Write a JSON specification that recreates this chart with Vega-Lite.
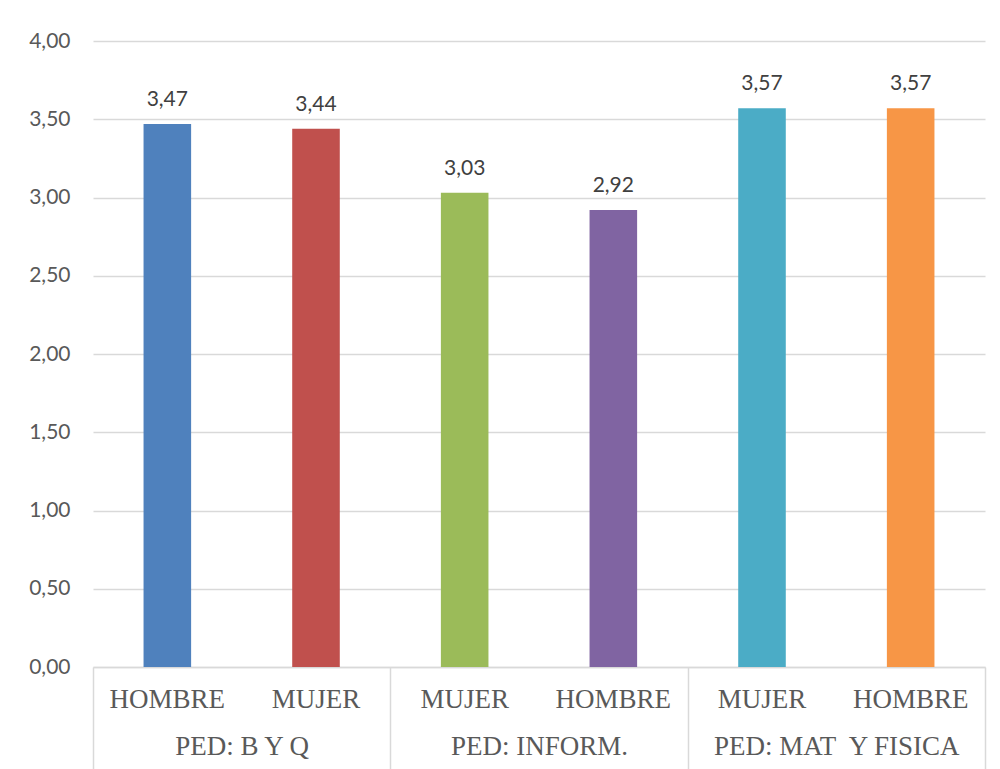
{
  "$schema": "https://vega.github.io/schema/vega-lite/v6.json",
  "width": 892,
  "height": 626,
  "autosize": {"type": "none"},
  "padding": {"left": 93, "top": 41, "right": 15, "bottom": 102},
  "background": "white",
  "config": {
    "view": {"stroke": null},
    "locale": {"number": {"decimal": ",", "thousands": ".", "grouping": [3], "currency": ["", " €"]}}
  },
  "data": {
    "values": [
      {"id": "HOMBRE (B Y Q)", "category": "HOMBRE", "group": "PED: B Y Q", "value": 3.47},
      {"id": "MUJER (B Y Q)", "category": "MUJER", "group": "PED: B Y Q", "value": 3.44},
      {"id": "MUJER (INFORM.)", "category": "MUJER", "group": "PED: INFORM.", "value": 3.03},
      {"id": "HOMBRE (INFORM.)", "category": "HOMBRE", "group": "PED: INFORM.", "value": 2.92},
      {"id": "MUJER (MAT Y FISICA)", "category": "MUJER", "group": "PED: MAT\u00a0 Y FISICA", "value": 3.57},
      {"id": "HOMBRE (MAT Y FISICA)", "category": "HOMBRE", "group": "PED: MAT\u00a0 Y FISICA", "value": 3.57}
    ]
  },
  "layer": [
    {
      "encoding": {
        "x": {
          "field": "id",
          "type": "nominal",
          "sort": null,
          "scale": {"paddingInner": 0.68, "paddingOuter": 0.34},
          "axis": {
            "title": null,
            "labelAngle": 0,
            "labelExpr": "split(datum.label, ' (')[0]",
            "labelFont": "Liberation Serif",
            "labelFontSize": 27,
            "labelColor": "#595959",
            "labelBaseline": "middle",
            "labelPadding": 32,
            "labelLimit": 0,
            "ticks": false,
            "domain": true,
            "domainColor": "#d9d9d9",
            "domainWidth": 1.5,
            "grid": false
          }
        },
        "y": {
          "field": "value",
          "type": "quantitative",
          "scale": {"domain": [0, 4]},
          "axis": {
            "title": null,
            "values": [0, 0.5, 1, 1.5, 2, 2.5, 3, 3.5, 4],
            "format": ".2f",
            "domain": false,
            "ticks": false,
            "grid": true,
            "gridColor": "#d9d9d9",
            "gridWidth": 1.5,
            "labelFont": "Lato",
            "labelFontSize": 21,
            "labelColor": "#595959",
            "labelPadding": 23
          }
        }
      },
      "layer": [
        {
          "mark": {"type": "bar"},
          "encoding": {
            "color": {
              "field": "id",
              "type": "nominal",
              "sort": null,
              "scale": {"range": ["#4F81BD", "#C0504D", "#9BBB59", "#8064A2", "#4BACC6", "#F79646"]},
              "legend": null
            }
          }
        },
        {
          "mark": {"type": "text", "font": "Lato", "fontSize": 21, "color": "#404040", "baseline": "alphabetic", "dy": -18},
          "encoding": {
            "text": {"field": "value", "type": "quantitative", "format": ".2f"}
          }
        }
      ]
    },
    {
      "mark": {"type": "bar", "opacity": 0},
      "encoding": {
        "x": {
          "field": "group",
          "type": "nominal",
          "sort": null,
          "scale": {"paddingInner": 0, "paddingOuter": 0},
          "axis": {
            "orient": "bottom",
            "title": null,
            "labelAngle": 0,
            "labelFont": "Liberation Serif",
            "labelFontSize": 27,
            "labelColor": "#595959",
            "labelBaseline": "middle",
            "labelLimit": 0,
            "tickBand": "extent",
            "ticks": true,
            "tickSize": 102,
            "tickColor": "#d9d9d9",
            "tickWidth": 1.5,
            "labelPadding": -23,
            "domain": false,
            "grid": false
          }
        }
      }
    }
  ],
  "resolve": {"scale": {"x": "independent", "y": "shared"}, "axis": {"x": "independent"}}
}
